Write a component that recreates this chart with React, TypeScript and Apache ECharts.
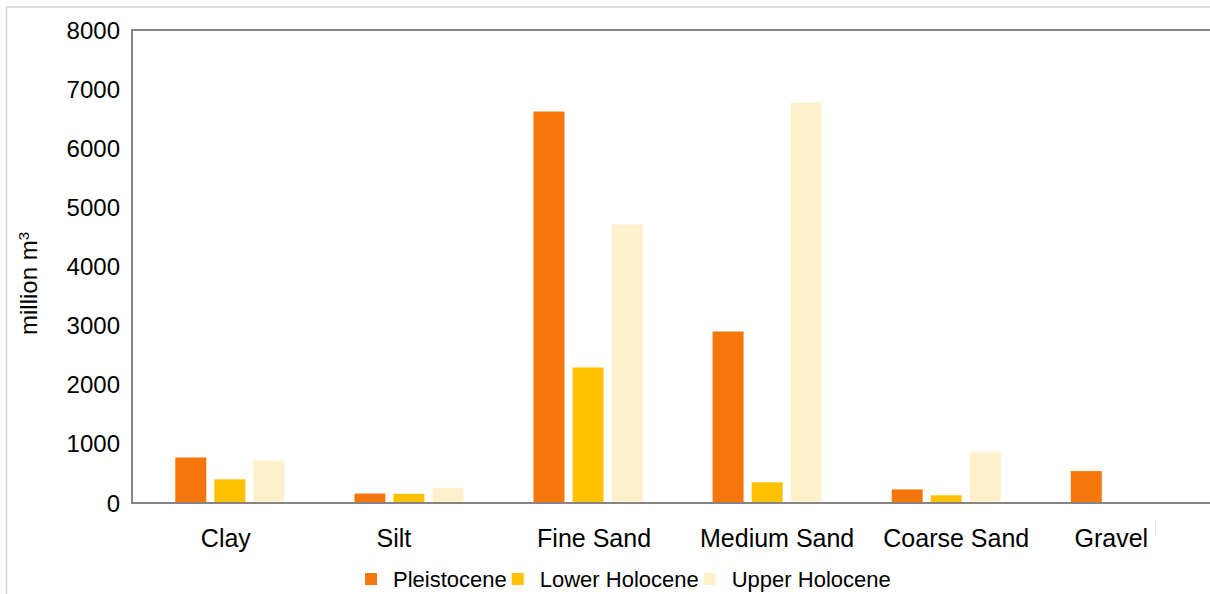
import React, { useEffect, useRef } from "react";
import * as echarts from "echarts";

const categories = ["Clay", "Silt", "Fine Sand", "Medium Sand", "Coarse Sand", "Gravel"];
const pleistocene = [770, 160, 6620, 2900, 230, 540];
const lowerHolocene = [400, 155, 2290, 350, 130, 0];
const upperHolocene = [720, 250, 4710, 6770, 860, 0];
const seriesNames = ["Pleistocene", "Lower Holocene", "Upper Holocene"];
const colors = ["#F7760B", "#FFC000", "#FFF0CC"];
// horizontal nudges of the category labels, as in the original figure (px)
const labelNudge = [-4, -15, 6, 10, 10, -14];

export default function App() {
  const ref = useRef<HTMLDivElement>(null);
  useEffect(() => {
    if (!ref.current) return;
    const chart = echarts.init(ref.current, undefined, { renderer: "svg" });
    const font = "'Liberation Sans', Arial, sans-serif";
    const data = [pleistocene, lowerHolocene, upperHolocene];
    const rich: Record<string, any> = {};
    labelNudge.forEach((n, i) => {
      rich["c" + i] = {
        fontSize: 25,
        color: "#000",
        fontFamily: font,
        padding: n >= 0 ? [0, 0, 0, 2 * n] : [0, -2 * n, 0, 0],
      };
    });
    chart.setOption({
      animation: false,
      textStyle: { fontFamily: font },
      grid: { left: 140.3, width: 1074.6, top: 30, bottom: 91, containLabel: false },
      legend: {
        data: seriesNames,
        left: 360,
        top: 563,
        itemWidth: 12,
        itemHeight: 12,
        itemGap: 5,
        icon: "rect",
        textStyle: { fontSize: 22, color: "#000", fontFamily: font, padding: [0, 0, 0, 11] },
      },
      xAxis: {
        type: "category",
        data: categories,
        axisLine: { show: false },
        axisTick: { show: false },
        axisLabel: {
          fontSize: 25,
          color: "#000",
          margin: 22,
          fontFamily: font,
          interval: 0,
          formatter: (v: string) => `{c${categories.indexOf(v)}|${v}}`,
          rich,
        },
      },
      yAxis: {
        type: "value",
        min: 0,
        max: 8000,
        interval: 1000,
        offset: 8.3,
        name: "million m{sup|3}",
        nameLocation: "middle",
        nameGap: 92,
        nameTextStyle: {
          fontSize: 24,
          color: "#000",
          fontFamily: font,
          padding: [0, 34, 0, 0],
          rich: { sup: { fontSize: 15, verticalAlign: "top", color: "#000", fontFamily: font } },
        },
        axisLine: { show: false },
        axisTick: { show: false },
        splitLine: { show: false },
        axisLabel: {
          fontSize: 24,
          color: "#000",
          margin: 12,
          fontFamily: font,
          formatter: (v: number) => String(v),
        },
      },
      series: seriesNames.map((name, i) => ({
        name,
        type: "bar",
        data: data[i],
        barWidth: 31,
        barGap: "26%",
        itemStyle: { color: colors[i] },
      })),
      graphic: [
        {
          type: "polyline",
          shape: { points: [[1230, 7], [6.5, 7], [6.5, 594]] },
          style: { stroke: "#d6d6d6", lineWidth: 1.5, fill: null },
          silent: true,
        },
        {
          type: "polyline",
          shape: { points: [[1230, 30], [132, 30], [132, 503], [1230, 503]] },
          style: { stroke: "#858585", lineWidth: 2, fill: null },
          silent: true,
          z: 10,
        },
        {
          type: "line",
          shape: { x1: 1155.5, y1: 522, x2: 1155.5, y2: 535 },
          style: { stroke: "#dde8f4", lineWidth: 1 },
          silent: true,
        },
      ],
    });
    return () => chart.dispose();
  }, []);
  return (
    <div
      ref={ref}
      style={{ position: "fixed", left: 0, top: 0, width: 1230, height: 594, background: "#fff" }}
    />
  );
}
